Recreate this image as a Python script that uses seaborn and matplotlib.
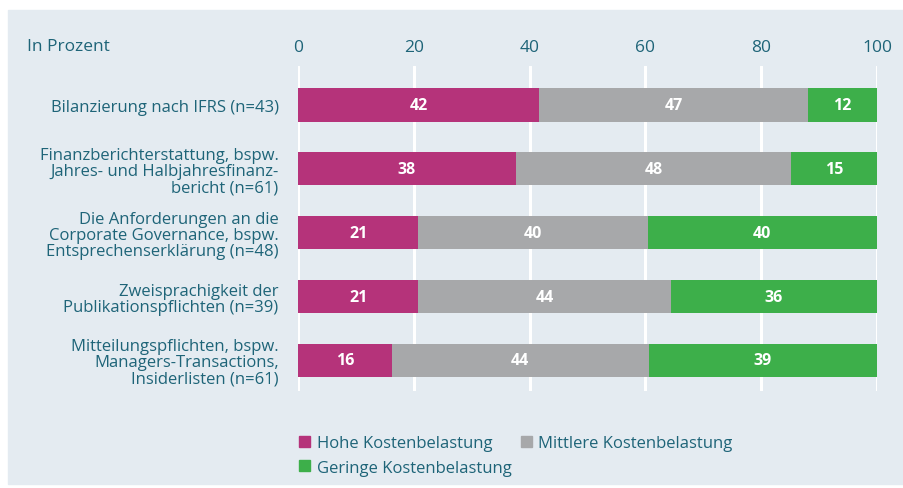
import matplotlib.pyplot as plt
import seaborn as sns
import pandas as pd
import numpy as np
from matplotlib.patches import Patch, Rectangle

# categories and raw values (the chart shows shares scaled to 100 %)
kategorien = [
    "Bilanzierung nach IFRS (n=43)",
    "Finanzberichterstattung, bspw.\nJahres- und Halbjahresfinanz-\nbericht (n=61)",
    "Die Anforderungen an die\nCorporate Governance, bspw.\nEntsprechenserklärung (n=48)",
    "Zweisprachigkeit der\nPublikationspflichten (n=39)",
    "Mitteilungspflichten, bspw.\nManagers-Transactions,\nInsiderlisten (n=61)",
]
hohe = [42, 38, 21, 21, 16]
mittlere = [47, 48, 40, 44, 44]
geringe = [12, 15, 40, 36, 39]

serien = ["Hohe Kostenbelastung", "Mittlere Kostenbelastung", "Geringe Kostenbelastung"]
farben = ["#B5337A", "#A7A8AA", "#3DAF4A"]
ticks_x = [0, 20, 40, 60, 80, 100]

TEXT = "#1E6478"
PANEL = "#E4EBF1"

sns.set_theme(style="white")
plt.rcParams["font.family"] = ["Open Sans", "DejaVu Sans"]

df = pd.DataFrame({"kategorie": kategorien, "hohe": hohe,
                   "mittlere": mittlere, "geringe": geringe})
summe = df[["hohe", "mittlere", "geringe"]].sum(axis=1)
df["a"] = df["hohe"] / summe * 100
df["b"] = (df["hohe"] + df["mittlere"]) / summe * 100
df["c"] = 100.0

fig = plt.figure(figsize=(9.04, 4.89), dpi=100)
fig.patch.set_facecolor("white")
fig.add_artist(Rectangle((8 / 904, 4 / 489), 1, 1 - 15 / 489,
                         transform=fig.transFigure, color=PANEL, zorder=0))

ax = fig.add_axes([298 / 904, 1 - 392 / 489, 579 / 904, 325 / 489])
ax.set_facecolor("none")

# stacked bars: draw cumulative totals from the back to the front
for col, farbe in zip(["c", "b", "a"], farben[::-1]):
    sns.barplot(data=df, y="kategorie", x=col, color=farbe, orient="h",
                width=0.52, saturation=1, linewidth=0, ax=ax, zorder=3)

# value labels in the middle of each segment
links = [np.zeros(len(df)), df["a"].values, df["b"].values]
rechts = [df["a"].values, df["b"].values, df["c"].values]
werte = [hohe, mittlere, geringe]
for l, r, w in zip(links, rechts, werte):
    for i in range(len(df)):
        ax.text((l[i] + r[i]) / 2, i, str(w[i]), ha="center", va="center",
                color="white", fontsize=11.5, fontweight="bold", zorder=5)

ax.set_xlim(0, 100)
ax.set_ylim(4.48, -0.61)
ax.set_xticks(ticks_x)
ax.xaxis.tick_top()
ax.tick_params(axis="x", length=0, pad=8, labelsize=12.5, labelcolor=TEXT)
ax.tick_params(axis="y", length=0, pad=14, labelsize=12, labelcolor=TEXT)
ax.set_xlabel("")
ax.set_ylabel("")
for lab in ax.get_yticklabels():
    lab.set_horizontalalignment("right")
    lab.set_multialignment("right")
    lab.set_linespacing(1.02)
ax.grid(axis="x", color="white", linewidth=2.2, zorder=1)
ax.set_axisbelow(True)
sns.despine(ax=ax, left=True, bottom=True, top=True, right=True)

fig.text(27 / 904, 1 - 47 / 489, "In Prozent", color=TEXT, fontsize=12.5,
         va="center", ha="left")

# legend order so that columns fill as: row 1 hohe/mittlere, row 2 geringe
griffe = [Patch(color=f) for f in farben]
reihenfolge = [0, 2, 1]
fig.legend([griffe[i] for i in reihenfolge], [serien[i] for i in reihenfolge],
           ncol=2, loc="upper left", bbox_to_anchor=(291 / 904, 1 - 428 / 489),
           frameon=False, fontsize=12, labelcolor=TEXT, handlelength=0.65,
           handleheight=0.65, handletextpad=0.4, columnspacing=0.55,
           borderpad=0, labelspacing=0.5)

fig.savefig("out.png", dpi=100, facecolor="white")
